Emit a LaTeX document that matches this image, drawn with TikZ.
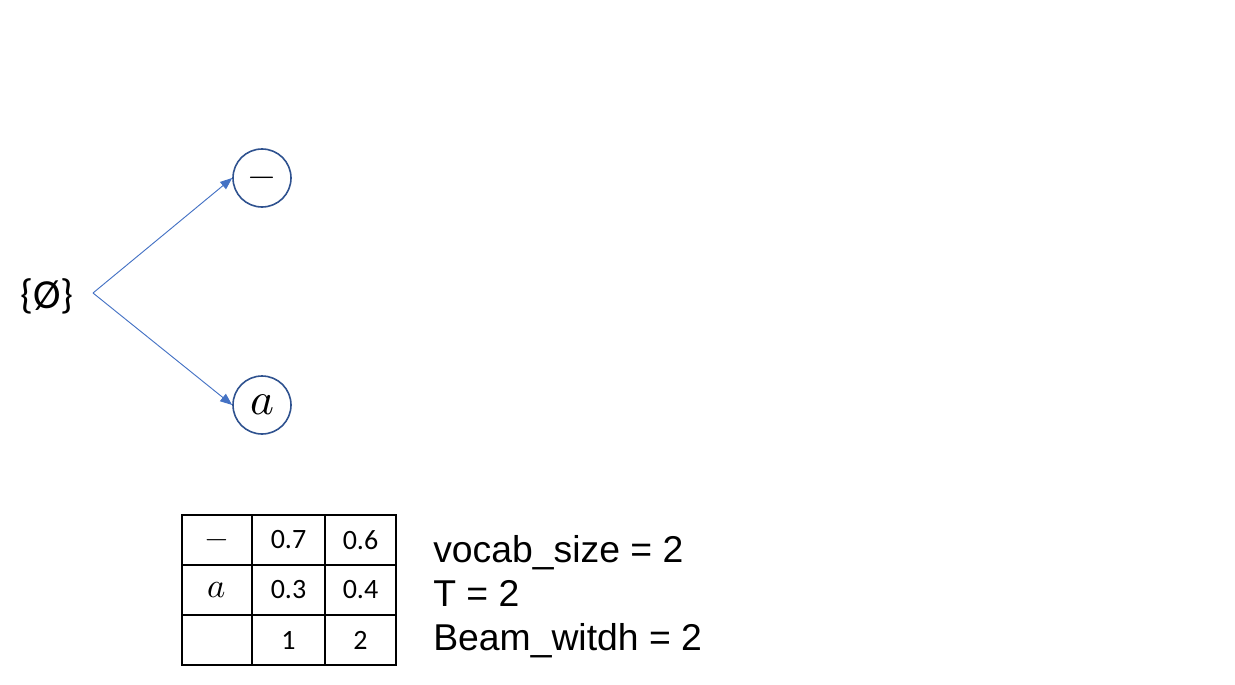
\documentclass[tikz,border=0pt]{standalone}
\usepackage{fontspec}
\usepackage{unicode-math}
\newfontfamily\calib{Carlito}
\newfontfamily\arial{Liberation Sans}
\usetikzlibrary{arrows.meta}
\definecolor{circblue}{HTML}{2F528F}
\definecolor{arrblue}{HTML}{4472C4}
\newcommand{\cminus}{\raisebox{-0.25em}[0pt][0pt]{$-$}}
\tikzset{
  state/.style={circle, draw=circblue, line width=1.2pt, minimum size=43.5pt, inner sep=0pt},
  link/.style={draw=arrblue, line width=0.7pt, -{Triangle[length=9pt,width=7pt]}},
  cell/.style={inner sep=0pt, font=\calib\fontsize{21}{25}\selectfont},
  param/.style={anchor=base west, inner sep=0pt, font=\arial\fontsize{28}{32}\selectfont},
  grid/.style={line width=1.1pt}
}
\begin{document}
\begin{tikzpicture}[x=0.75pt,y=-0.75pt]
\useasboundingbox (0,0) rectangle (1235,685);
% tree
\node[inner sep=0pt, font=\calib\fontsize{31}{36}\selectfont] (root) at (47,296) {\{Ø\}};
\coordinate (s) at (93,293);
\node[state, font=\fontsize{26}{30}\selectfont] (blank) at (262,178) {\cminus};
\node[state, font=\fontsize{34}{40}\selectfont] (a) at (262,405) {$a$};
\draw[link] (s) -- (blank.west);
\draw[link] (s) -- (a.west);
% table
\draw[grid] (182,515) rectangle (396,665);
\draw[grid] (182,565) -- (396,565);
\draw[grid] (182,615) -- (396,615);
\draw[grid] (252,515) -- (252,665);
\draw[grid] (325,515) -- (325,665);
\node[inner sep=0pt, font=\fontsize{22}{26}\selectfont] (r1c0) at (217,540) {\cminus};
\node[cell] (r1c1) at (288.5,540) {0.7};
\node[cell] (r1c2) at (360.5,540) {0.6};
\node[inner sep=0pt, font=\fontsize{26}{30}\selectfont] (r2c0) at (217,590) {$a$};
\node[cell] (r2c1) at (288.5,590) {0.3};
\node[cell] (r2c2) at (360.5,590) {0.4};
\node[cell] (r3c1) at (288.5,640) {1};
\node[cell] (r3c2) at (360.5,640) {2};
% parameters
\node[param] (p1) at (433,562) {vocab\_size = 2};
\node[param] (p2) at (433,606) {T = 2};
\node[param] (p3) at (433,650) {Beam\_witdh = 2};
\end{tikzpicture}
\end{document}
